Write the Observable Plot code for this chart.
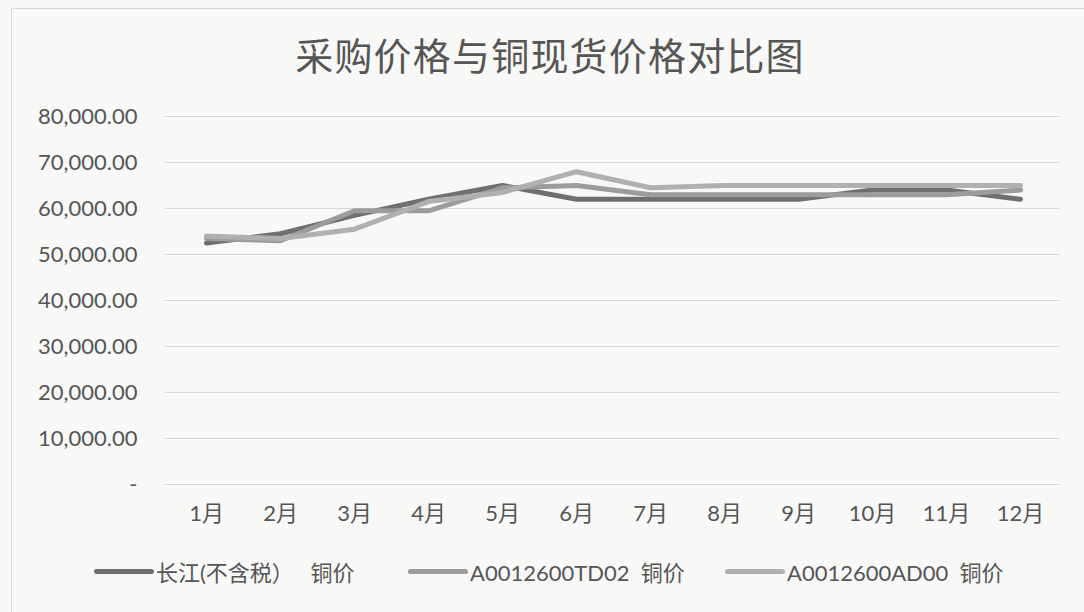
<!DOCTYPE html>
<html>
<head>
<meta charset="utf-8">
<script src="https://cdn.jsdelivr.net/npm/d3@7"></script>
<script src="https://cdn.jsdelivr.net/npm/@observablehq/plot@0.6"></script>
<style>
  html, body { margin: 0; padding: 0; background: #f8f8f7; }
  #frame {
    position: absolute; left: 11px; top: 8px; width: 1080px; height: 610px;
    border-left: 1px solid #d4d6da; border-top: 1px solid #d4d6da;
    box-sizing: border-box;
  }
  #title {
    position: absolute; left: 0; top: 26px; width: 1100px; text-align: center;
    font-family: "Noto Sans CJK SC", sans-serif; font-size: 38px; color: #555;
    letter-spacing: 1.2px;
  }
  #chart { position: absolute; left: 0; top: 90px; }
  #legend {
    position: absolute; left: 0; top: 553px; width: 1084px; height: 36px;
    font-family: Lato, "Noto Sans CJK SC", sans-serif; font-size: 22px; color: #555;
  }
  .item { position: absolute; top: 0; display: flex; align-items: center; height: 36px; }
  .swatch { width: 60px; height: 5px; border-radius: 3px; margin-right: 2px; }
</style>
</head>
<body>
<div id="frame"></div>
<div id="title">采购价格与铜现货价格对比图</div>
<div id="chart"></div>
<div id="legend"></div>
<script>
// Months along the x axis
const months = ["1月", "2月", "3月", "4月", "5月", "6月", "7月", "8月", "9月", "10月", "11月", "12月"];

// Series names as shown in the legend
const seriesNames = ["长江(不含税）　 铜价", "A0012600TD02  铜价", "A0012600AD00  铜价"];

// Copper price per month for each series
const changjiang = [52500, 54500, 58500, 62000, 65000, 62000, 62000, 62000, 62000, 64000, 64000, 62000];
const td02       = [53500, 53000, 59500, 59500, 64500, 65000, 63000, 63000, 63000, 63000, 63000, 64000];
const ad00       = [54000, 53500, 55500, 61500, 63500, 68000, 64500, 65000, 65000, 65000, 65000, 65000];

// Y axis ticks
const yTicks = [0, 10000, 20000, 30000, 40000, 50000, 60000, 70000, 80000];

const seriesColors = ["#6f6f6f", "#9c9c9c", "#b0b0b0"];
const seriesValues = [changjiang, td02, ad00];

const rows = [];
seriesValues.forEach((vals, s) => {
  vals.forEach((v, i) => rows.push({series: seriesNames[s], month: months[i], value: v}));
});

const fmt = d3.format(",.2f");

const chart = Plot.plot({
  width: 1084,
  height: 450,
  marginTop: 26,
  marginBottom: 56,
  marginLeft: 165,
  marginRight: 24,
  style: {background: "transparent", fontFamily: "Lato, 'Noto Sans CJK SC', sans-serif", fontSize: "22px", color: "#555"},
  x: {type: "point", domain: months, padding: 0.5, label: null},
  y: {domain: [0, 80000], ticks: yTicks, label: null},
  color: {domain: seriesNames, range: seriesColors},
  marks: [
    Plot.gridY(yTicks, {stroke: "#d6d8dc", strokeOpacity: 1, strokeWidth: 1}),
    Plot.axisY(yTicks, {tickSize: 0, tickPadding: 28, tickFormat: d => d === 0 ? "-" : fmt(d), fill: "#555", fontSize: 22}),
    Plot.axisX({tickSize: 0, tickPadding: 21, fill: "#555", fontSize: 22}),
    Plot.line(rows, {x: "month", y: "value", z: "series", stroke: "series", strokeWidth: 5, strokeLinejoin: "round", strokeLinecap: "round"})
  ]
});
document.getElementById("chart").appendChild(chart);

// Legend below the chart
const legendX = [94, 408, 725];
const legend = document.getElementById("legend");
seriesNames.forEach((name, i) => {
  const item = document.createElement("div");
  item.className = "item";
  item.style.left = legendX[i] + "px";
  const sw = document.createElement("div");
  sw.className = "swatch";
  sw.style.background = seriesColors[i];
  const label = document.createElement("span");
  label.textContent = name;
  label.style.whiteSpace = "pre";
  item.appendChild(sw);
  item.appendChild(label);
  legend.appendChild(item);
});
</script>
</body>
</html>
